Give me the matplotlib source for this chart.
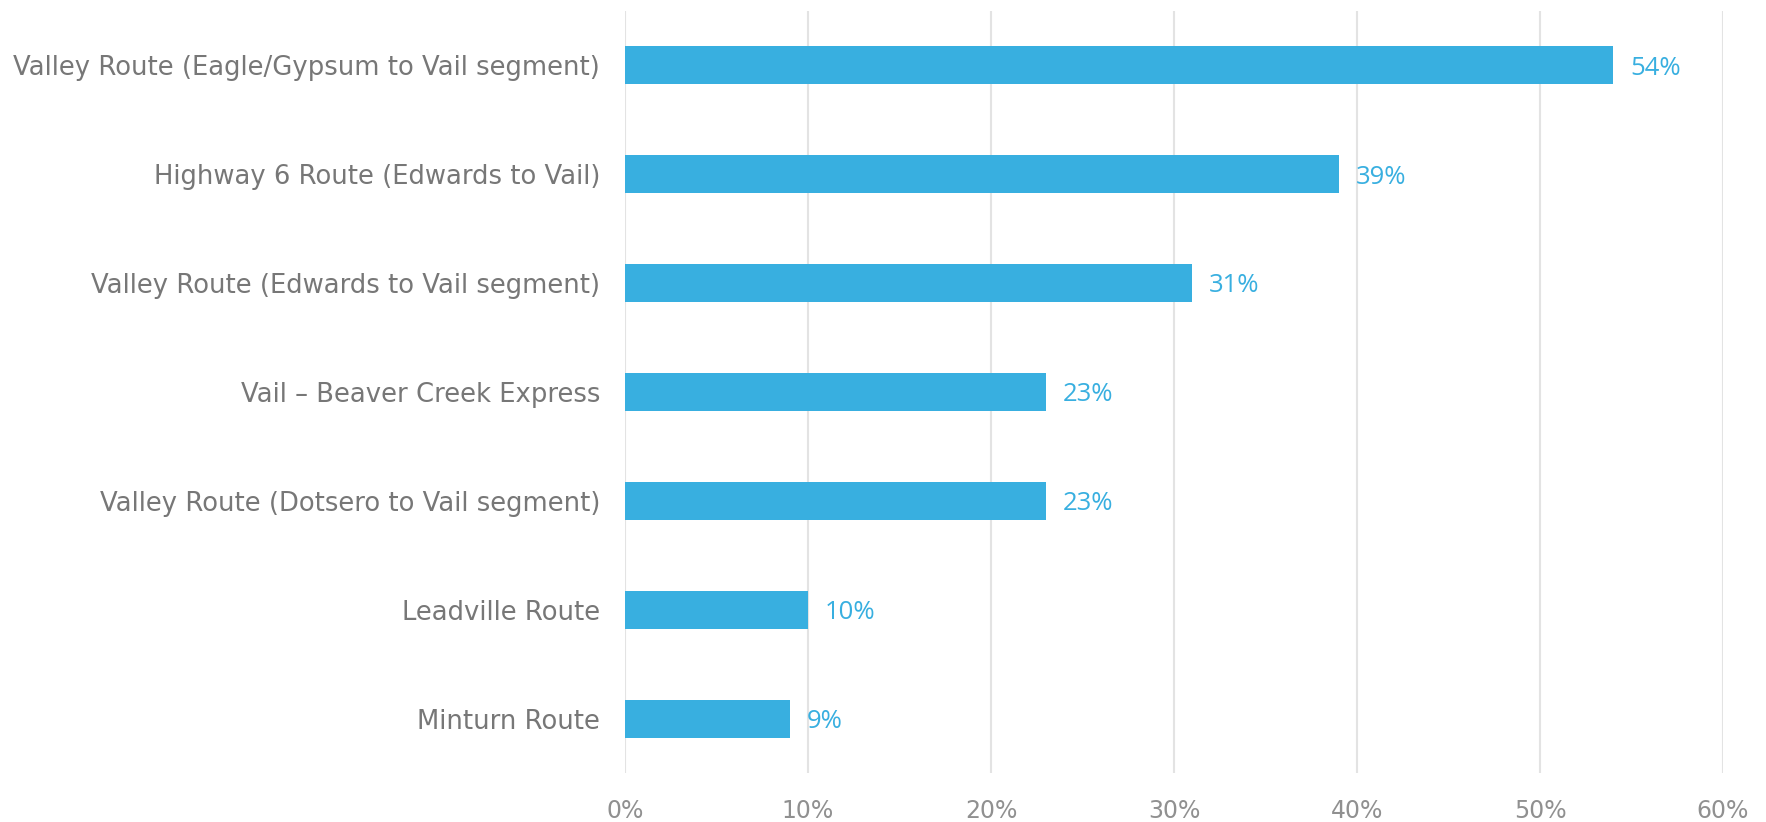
import matplotlib.pyplot as plt
from matplotlib.ticker import FuncFormatter

routes = [
    "Valley Route (Eagle/Gypsum to Vail segment)",
    "Highway 6 Route (Edwards to Vail)",
    "Valley Route (Edwards to Vail segment)",
    "Vail \u2013 Beaver Creek Express",
    "Valley Route (Dotsero to Vail segment)",
    "Leadville Route",
    "Minturn Route",
]
shares = [0.54, 0.39, 0.31, 0.23, 0.23, 0.10, 0.09]
x_ticks = [0, 0.1, 0.2, 0.3, 0.4, 0.5, 0.6]

bar_color = "#38AFE0"
fig = plt.figure(figsize=(17.66, 8.22), dpi=100)
ax = fig.add_axes([625 / 1766, 1 - 773 / 822, (1723 - 625) / 1766, (773 - 11) / 822])

ypos = range(len(routes))
ax.barh(ypos, shares, height=0.35, color=bar_color, zorder=3)
ax.set_ylim(len(routes) - 0.5, -0.5)
ax.set_xlim(0, 0.6)

for y, v in zip(ypos, shares):
    ax.annotate(f"{v:.0%}", (v, y), xytext=(12, -2), textcoords="offset points",
                va="center", ha="left", fontsize=18.5, color=bar_color,
                family="Open Sans")

ax.set_yticks(list(ypos))
ax.set_yticklabels(routes, fontsize=18.6, color="#777777", family="DejaVu Sans")
ax.set_xticks(x_ticks)
ax.xaxis.set_major_formatter(FuncFormatter(lambda v, p: f"{v:.0%}"))
ax.tick_params(axis="x", length=0, pad=19, labelsize=17, labelcolor="#909090")
ax.tick_params(axis="y", length=0, pad=18)
ax.grid(axis="x", color="#e3e3e3", linewidth=1.5, zorder=0)
for s in ax.spines.values():
    s.set_visible(False)

fig.savefig("out.png", dpi=100)
